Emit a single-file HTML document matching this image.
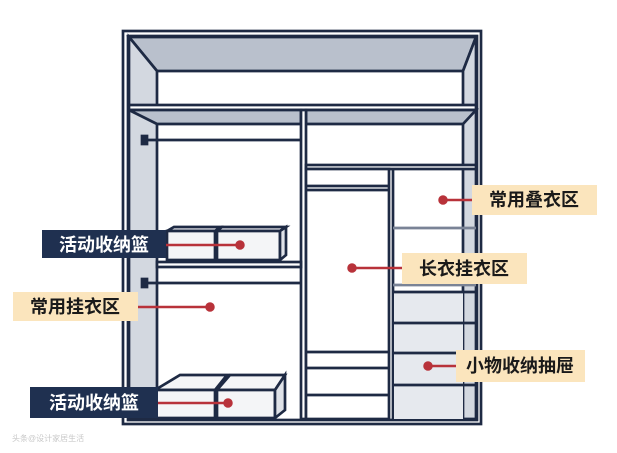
<!DOCTYPE html>
<html><head><meta charset="utf-8"><style>
html,body{margin:0;padding:0;background:#fff;}
svg{display:block}
text{font-family:"Liberation Sans","Noto Sans CJK SC",sans-serif;font-weight:bold;font-size:18px}
</style></head><body>
<svg width="617" height="453" viewBox="0 0 617 453">
<g stroke="#1e2a44" stroke-width="2.7" fill="none">
<rect x="123" y="31" width="358" height="393" fill="#fff"/>
<rect x="128" y="36" width="349" height="384"/>
<polygon points="129,37 476,37 463,71 157,71" fill="#b9c0cc"/>
<polygon points="129,37 157,71 157,419 129,419" fill="#d3d8e0"/>
<polygon points="476,37 463,71 463,419 476,419" fill="#d3d8e0"/>
<rect x="129" y="105" width="347" height="5" fill="#fff"/>
<polygon points="129,110 301,110 301,124 157,124" fill="#b9c0cc"/>
<polygon points="306,110 476,110 463,124 306,124" fill="#b9c0cc"/>
<rect x="301" y="110" width="5" height="309" fill="#fff"/>
<line x1="145" y1="140" x2="301" y2="140"/>
<rect x="142" y="136" width="5" height="8" fill="#1e2a44"/>
<rect x="157" y="262" width="144" height="5" fill="#fff"/>
<line x1="145" y1="283" x2="301" y2="283"/>
<rect x="142" y="279" width="5" height="8" fill="#1e2a44"/>
<rect x="306" y="165" width="170" height="4" fill="#fff"/>
<rect x="306" y="169" width="83" height="250" fill="#fff"/>
<line x1="306" y1="186" x2="389" y2="186"/>
<line x1="306" y1="190" x2="389" y2="190"/>
<line x1="306" y1="352" x2="389" y2="352"/>
<line x1="306" y1="368" x2="389" y2="368"/>
<line x1="306" y1="395" x2="389" y2="395"/>
<line x1="393" y1="169" x2="393" y2="419"/>
<line x1="393" y1="228" x2="476" y2="228" stroke="#7a8396"/>
<line x1="393" y1="285" x2="476" y2="285" stroke="#7a8396"/>
<rect x="394" y="292" width="69" height="127" fill="#e6e9ee" stroke="none"/>
<line x1="393" y1="292" x2="476" y2="292"/>
<line x1="393" y1="323" x2="476" y2="323"/>
<line x1="393" y1="353" x2="476" y2="353"/>
<line x1="393" y1="385" x2="476" y2="385"/>
<polygon points="167,231 174,227 220,227 215,231" fill="#f4f5f7"/>
<rect x="167" y="231" width="48" height="29" fill="#f4f5f7"/>
<polygon points="217,231 222,227 286,227 280,231" fill="#f4f5f7"/>
<rect x="217" y="231" width="63" height="29" fill="#f4f5f7"/>
<polygon points="280,231 286,227 286,255 280,260" fill="#dfe2e8"/>
<polygon points="155,390 180,375 227,375 215,390" fill="#f4f5f7"/>
<rect x="155" y="390" width="60" height="28" fill="#f4f5f7"/>
<polygon points="217,390 230,375 285,375 275,390" fill="#f4f5f7"/>
<rect x="217" y="390" width="58" height="28" fill="#f4f5f7"/>
<polygon points="275,390 285,375 285,410 275,418" fill="#dfe2e8"/>
</g>
<g stroke="#b8323a" stroke-width="2.5" fill="#b8323a">
<line x1="166" y1="245" x2="240" y2="245"/><circle cx="240" cy="245" r="3.5"/>
<line x1="138" y1="307" x2="210" y2="307"/><circle cx="210" cy="307" r="3.5"/>
<line x1="158" y1="403" x2="228" y2="403"/><circle cx="228" cy="403" r="3.5"/>
<line x1="443" y1="200" x2="472" y2="200"/><circle cx="443" cy="200" r="3.5"/>
<line x1="352" y1="268" x2="402" y2="268"/><circle cx="352" cy="268" r="3.5"/>
<line x1="428" y1="366" x2="456" y2="366"/><circle cx="428" cy="366" r="3.5"/>
</g>
<rect x="42" y="230" width="124" height="28" fill="#1f3050"/>
<text x="104" y="251" fill="#fff" text-anchor="middle">活动收纳篮</text>
<rect x="13" y="292" width="125" height="29" fill="#fbe5bd"/>
<text x="75" y="313" fill="#1a1a1a" text-anchor="middle">常用挂衣区</text>
<rect x="30" y="387" width="128" height="31" fill="#1f3050"/>
<text x="94" y="409" fill="#fff" text-anchor="middle">活动收纳篮</text>
<rect x="472" y="185" width="125" height="30" fill="#fbe5bd"/>
<text x="534" y="206" fill="#1a1a1a" text-anchor="middle">常用叠衣区</text>
<rect x="402" y="253" width="125" height="31" fill="#fbe5bd"/>
<text x="464" y="275" fill="#1a1a1a" text-anchor="middle">长衣挂衣区</text>
<rect x="456" y="350" width="129" height="32" fill="#fbe5bd"/>
<text x="520" y="372" fill="#1a1a1a" text-anchor="middle">小物收纳抽屉</text>
<text x="12" y="441" fill="#c8c8c8" style="font-size:8px;font-weight:normal">头条@设计家居生活</text>
</svg>
</body></html>
